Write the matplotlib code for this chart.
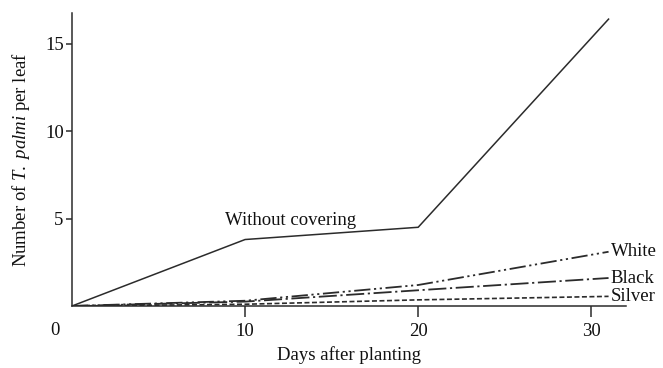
import matplotlib
matplotlib.use("Agg")
import matplotlib.pyplot as plt

plt.rcParams['font.family'] = ['Liberation Serif', 'DejaVu Serif']
plt.rcParams['mathtext.fontset'] = 'custom'
plt.rcParams['mathtext.rm'] = 'Liberation Serif'
plt.rcParams['mathtext.it'] = 'Liberation Serif:italic'

# days after planting
days = [0, 10, 20, 31]

# thrips per leaf
without_covering = [0, 3.8, 4.5, 16.4]
white = [0, 0.3, 1.2, 3.1]
black = [0, 0.25, 0.9, 1.6]
silver = [0, 0.1, 0.35, 0.55]

x_ticks = [10, 20, 30]
y_ticks = [5, 10, 15]

ink = '#2b2b2b'
txt = '#111111'
fs = 13.5

fig = plt.figure(figsize=(6.63, 3.68), dpi=100)
ax = fig.add_axes([0.1086, 0.1685, 0.8354, 0.7962])

ax.plot(days, without_covering, color=ink, lw=1.1, ls='-')
ax.plot(days, white, color=ink, lw=1.3, ls=(0, (9, 2, 1.2, 2, 1.2, 2)))
ax.plot(days, black, color=ink, lw=1.3, ls=(0, (10, 2, 1.2, 2)))
ax.plot(days, silver, color=ink, lw=1.2, ls=(0, (3, 1.5)))

# labels at the line ends
for name, vals in [('White', white), ('Black', black), ('Silver', silver)]:
    ax.annotate(name, xy=(days[-1], vals[-1]), xytext=(1.5, 0),
                textcoords='offset points', va='center', ha='left',
                fontsize=fs, color=txt, annotation_clip=False)

ax.text(12.6, 4.65, 'Without covering', ha='center', va='baseline',
        fontsize=fs, color=txt)

ax.set_xlim(0, 32)
ax.set_ylim(0, 16.75)
ax.set_xticks(x_ticks)
ax.set_yticks(y_ticks)
ax.tick_params(axis='x', direction='out', length=8, width=1.1, colors=ink,
               labelsize=fs, labelcolor=txt, pad=4)
ax.tick_params(axis='y', direction='out', length=4, width=1.1, colors=ink,
               labelsize=fs, labelcolor=txt, pad=2)

# shared origin label
ax.annotate('0', xy=(0, 0), xytext=(-17, -16), textcoords='offset pixels',
            ha='center', va='top', fontsize=fs, color=txt,
            annotation_clip=False)

for side in ['top', 'right']:
    ax.spines[side].set_visible(False)
for side in ['left', 'bottom']:
    ax.spines[side].set_color(ink)
    ax.spines[side].set_linewidth(1.1)

ax.set_xlabel('Days after planting', fontsize=fs, color=txt, labelpad=5)
ax.set_ylabel(r'Number of $\it{T.\ palmi}$ per leaf', fontsize=fs,
              color=txt, labelpad=9)

fig.savefig('out.png', dpi=100, facecolor='white')
